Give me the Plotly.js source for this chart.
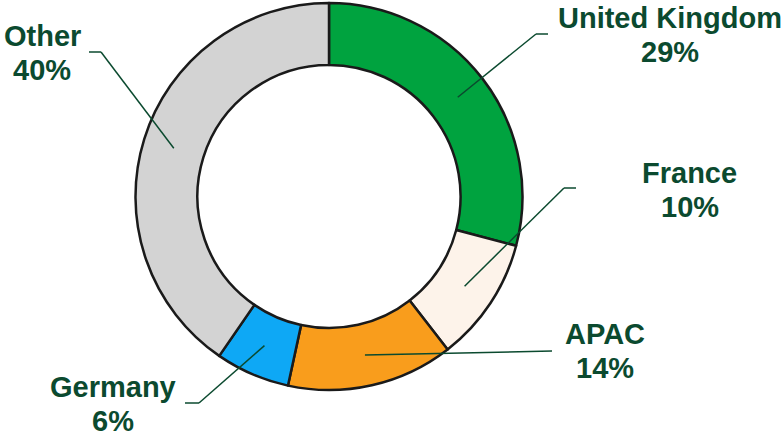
<!DOCTYPE html>
<html>
<head>
<meta charset="utf-8">
<script src="https://cdn.plot.ly/plotly-3.0.1.min.js"></script>
<style>html,body{margin:0;padding:0;background:#fff;}#chart{width:784px;height:432px;}</style>
</head>
<body>
<div id="chart"></div>
<script>
// Data
const regions = ["United Kingdom", "France", "APAC", "Germany", "Other"];
const shares = [29.1, 10.4, 13.9, 6.2, 40.4];
const pctLabels = ["29%", "10%", "14%", "6%", "40%"];
const sliceColors = ["#00A33F", "#FDF3EA", "#F99D1C", "#0EA8F5", "#D3D3D3"];

// Layout geometry
const W = 784, H = 432;
const cx = 329, cy = 196.5, R = 193.5, holeFrac = 0.68;
const textColor = "#0B4A2F";
// label centers (px: x, cap-middle y of first line) and elbow points for leader lines
const labelPos = [[670, 18], [689.5, 173], [605, 334], [112.5, 387], [42, 36.5]];
const lineGap = 34;
const elbows = [[[536, 34], [548, 34]], [[564, 188], [576, 188]], [[552, 351]], [[199, 403], [185, 403]], [[101, 52], [89, 52]]];

const px = x => x / W, py = y => 1 - y / H;

const total = shares.reduce((a, b) => a + b, 0);
let cum = 0;
const shapes = [];
const annotations = [];
const font = {family: "Arial, Liberation Sans, sans-serif", size: 29, color: textColor};
regions.forEach((name, i) => {
  const mid = (cum + shares[i] / 2) / total * 2 * Math.PI;
  cum += shares[i];
  const rm = R * (1 + holeFrac) / 2;
  let pts = [[cx + rm * Math.sin(mid), cy - rm * Math.cos(mid)]].concat(elbows[i]);
  for (let k = 0; k < pts.length - 1; k++) {
    shapes.push({type: "line", xref: "paper", yref: "paper",
      x0: px(pts[k][0]), y0: py(pts[k][1]), x1: px(pts[k + 1][0]), y1: py(pts[k + 1][1]),
      line: {color: textColor, width: 1.5}});
  }
  [name, pctLabels[i]].forEach((t, j) => {
    annotations.push({xref: "paper", yref: "paper", x: px(labelPos[i][0]), y: py(labelPos[i][1] + j * lineGap),
      xanchor: "center", yanchor: "middle", showarrow: false, align: "center",
      text: "<b>" + t + "</b>", font: font});
  });
});

const trace = {
  type: "pie", labels: regions, values: shares, sort: false, direction: "clockwise", rotation: 0,
  hole: holeFrac, textinfo: "none", hoverinfo: "skip",
  marker: {colors: sliceColors, line: {color: "#1A1A1A", width: 2.5}},
  domain: {x: [px(cx - R), px(cx + R)], y: [py(cy + R), py(cy - R)]}
};

Plotly.newPlot("chart", [trace], {
  width: W, height: H, margin: {l: 0, r: 0, t: 0, b: 0},
  paper_bgcolor: "#fff", showlegend: false, shapes: shapes, annotations: annotations
}, {staticPlot: true});
</script>
</body>
</html>
